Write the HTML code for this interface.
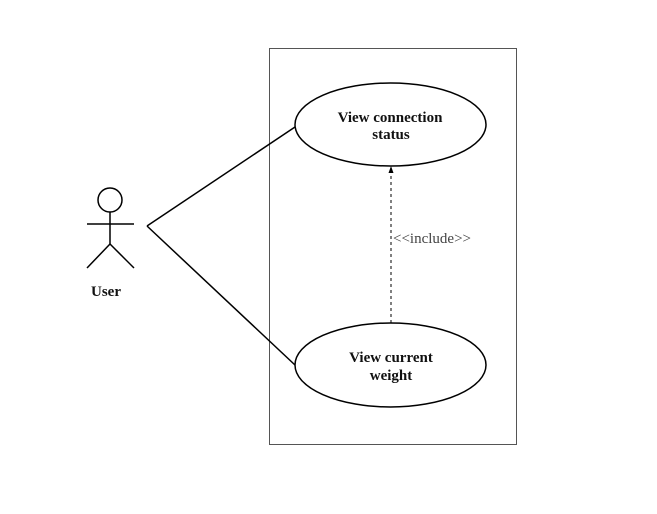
<!DOCTYPE html>
<html><head><style>body{margin:0;background:#fff}</style></head><body>
<svg width="657" height="509" xmlns="http://www.w3.org/2000/svg" font-family="Liberation Serif, serif">
<rect x="269.5" y="48.5" width="247" height="396" fill="none" stroke="#555" stroke-width="1"/>
<ellipse cx="390.5" cy="124.5" rx="95.5" ry="41.5" fill="#fff" stroke="#000" stroke-width="1.5"/>
<ellipse cx="390.5" cy="365" rx="95.5" ry="42" fill="#fff" stroke="#000" stroke-width="1.5"/>
<g font-weight="bold" font-size="15" text-anchor="middle" fill="#111">
<text x="390" y="122">View connection</text>
<text x="391" y="139">status</text>
<text x="391" y="362">View current</text>
<text x="391" y="380">weight</text>
<text x="106" y="296">User</text>
</g>
<g stroke="#000" stroke-width="1.5" fill="none">
<circle cx="110" cy="200" r="12"/>
<line x1="87" y1="224" x2="134" y2="224"/>
<line x1="110" y1="212" x2="110" y2="244"/>
<line x1="110" y1="244" x2="87" y2="268"/>
<line x1="110" y1="244" x2="134" y2="268"/>
<line x1="147" y1="226" x2="295" y2="127"/>
<line x1="147" y1="226" x2="295" y2="365"/>
</g>
<line x1="391" y1="323" x2="391" y2="172" stroke="#000" stroke-width="1" stroke-dasharray="3,3"/>
<polygon points="391,166 388.5,173 393.5,173" fill="#000"/>
<text x="393" y="243" font-size="15" fill="#444">&lt;&lt;include&gt;&gt;</text>
</svg>
</body></html>
